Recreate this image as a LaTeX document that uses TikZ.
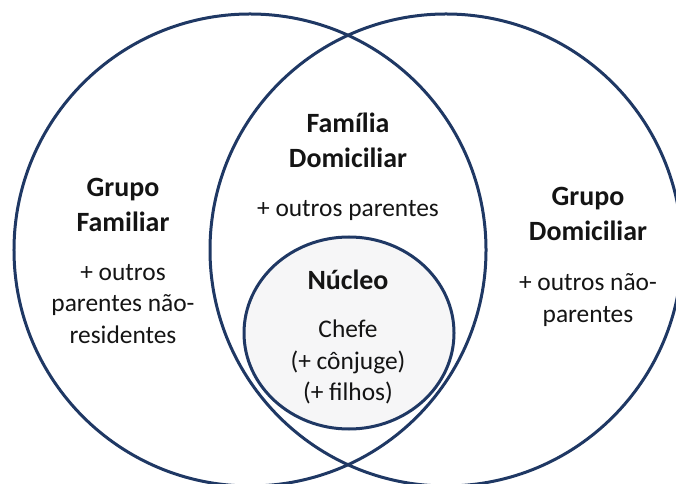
\documentclass[tikz,border=0pt]{standalone}
\usepackage{fontspec}
\setmainfont{Carlito}
\usetikzlibrary{shapes.geometric}
\definecolor{ring}{RGB}{31,56,100}
\definecolor{corefill}{RGB}{246,246,247}
\definecolor{txt}{RGB}{20,20,20}
\tikzset{
  ring/.style={draw=ring, line width=3bp, inner sep=0pt, ellipse},
  head/.style={align=center, text=txt, inner sep=0pt, font=\fontsize{28}{35}\selectfont\bfseries},
  body/.style={align=center, text=txt, inner sep=0pt, font=\fontsize{25.5}{31.5}\selectfont},
}
\begin{document}
\begin{tikzpicture}[x=1bp,y=-1bp]
\useasboundingbox (0,0) rectangle (676,484);
\clip (0,0) rectangle (676,484);
\node[ring, minimum width=472bp, minimum height=472bp] (famgroup) at (250,250) {};
\node[ring, minimum width=472bp, minimum height=472bp] (domgroup) at (446,250) {};
\node[ring, fill=corefill, minimum width=210bp, minimum height=192bp] (core) at (349,333) {};
\node[head] (famdom) at (348,140) {Família\\Domiciliar};
\node[body] (famdomtxt) at (348,211) {+ outros parentes};
\node[head] (famgrp) at (123,205) {Grupo\\Familiar};
\node[body] (famgrptxt) at (123,304) {+ outros\\parentes não-\\residentes};
\node[head] (domgrp) at (588,214) {Grupo\\Domiciliar};
\node[body] (domgrptxt) at (588,300) {+ outros não-\\parentes};
\node[head] (nucleo) at (348,280) {Núcleo};
\node[body] (nucleotxt) at (348,362) {Chefe\\(+ cônjuge)\\(+ filhos)};
\end{tikzpicture}
\end{document}
